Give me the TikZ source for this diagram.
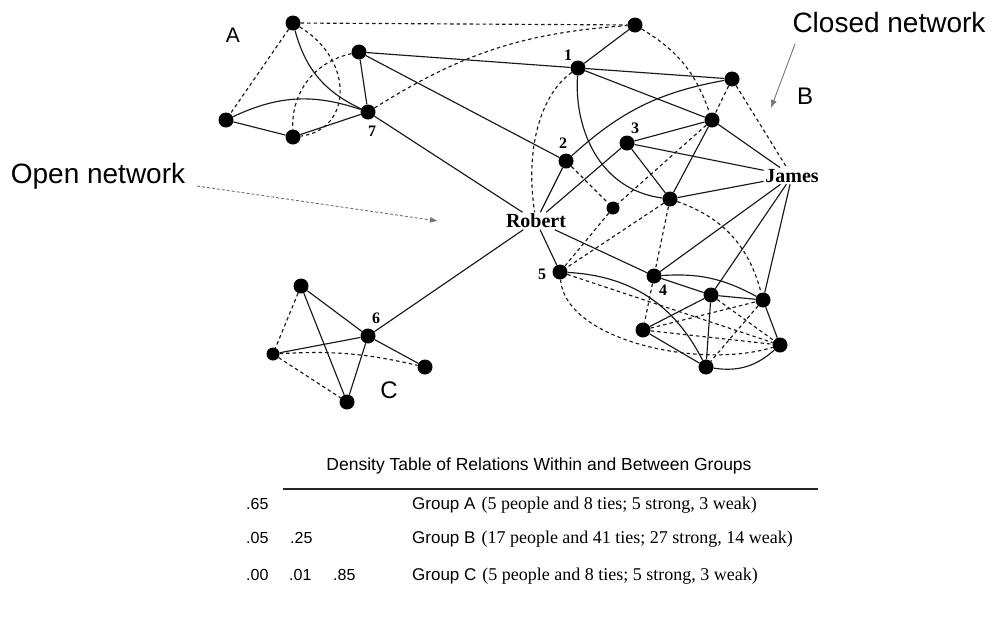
\documentclass[tikz,border=0pt]{standalone}
\usepackage{fontspec}
\setmainfont{Liberation Serif}
\setsansfont{Liberation Sans}
\usetikzlibrary{arrows.meta,backgrounds}
\begin{document}
\begin{tikzpicture}[x=1pt,y=-1pt,
  person/.style={circle,fill=black,inner sep=0pt,minimum size=15pt},
  smallperson/.style={person,minimum size=13pt},
  strong/.style={draw=black!90,line width=1.15pt},
  weak/.style={draw=black!90,line width=1.15pt,dash pattern=on 3.5pt off 3pt},
  pname/.style={font=\fontsize{20}{22}\selectfont\bfseries,inner sep=1.5pt},
  idx/.style={font=\fontsize{16}{18}\selectfont\bfseries,inner sep=0pt},
  grp/.style={font=\sffamily\fontsize{24}{26}\selectfont,inner sep=0pt},
  callout/.style={font=\sffamily\fontsize{28}{30}\selectfont,inner sep=0pt},
  pointer/.style={draw=black!55,line width=0.9pt,-{Latex[length=8pt,width=6pt]}},
  num/.style={font=\sffamily\fontsize{16}{18}\selectfont,anchor=base west,inner sep=0pt},
  row/.style={anchor=base west,inner sep=0pt},
]
\useasboundingbox (0,0) rectangle (990,630);

% ---------- people ----------
% group A
\node[person] (a1) at (293,23) {};
\node[person] (a2) at (359,52) {};
\node[person] (a7) at (368,112) {};
\node[person] (a3) at (226,120) {};
\node[person] (a4) at (293,137) {};
% group B
\node[person] (p)  at (635,25) {};
\node[person] (b1) at (578,68) {};
\node[person] (t)  at (732,79) {};
\node[person] (x)  at (712,120) {};
\node[person] (b3) at (627,143) {};
\node[person] (b2) at (566,161) {};
\node[smallperson] (nb) at (613,208) {};
\node[person] (na) at (670,199) {};
\node[person] (b5) at (560,272) {};
\node[person] (b4) at (654,276) {};
\node[person] (nc) at (711,295) {};
\node[person] (nd) at (763,300) {};
\node[person] (ne) at (643,330) {};
\node[person] (nf) at (780,345) {};
\node[person] (ng) at (706,367) {};
% group C
\node[person] (c1) at (301,286) {};
\node[person] (c6) at (368,336) {};
\node[smallperson] (c2) at (273,354) {};
\node[person] (c3) at (425,367) {};
\node[person] (c4) at (347,402) {};
% the two named people
\node[pname] (robert) at (536,221) {Robert};
\node[pname] (james)  at (792,176) {James};

% ---------- ties ----------
\begin{scope}[on background layer]
% within group A
\draw[weak]   (a1) -- (a3);
\draw[strong] (a1) to[bend right=25] (a7);
\draw[weak]   (a1) .. controls (355,60) and (352,130) .. (a4);
\draw[strong] (a2) -- (a7);
\draw[weak]   (a2) to[bend right=40] (a4);
\draw[strong] (a3) to[bend left=22] (a7);
\draw[strong] (a3) -- (a4);
\draw[strong] (a4) -- (a7);
% leaving group A
\draw[weak]   (a1) -- (p);
\draw[weak]   (a7) to[bend left=14] (p);
\draw[strong] (a2) -- (b1);
\draw[strong] (a2) -- (b2);
\draw[strong] (a7) -- (robert);
% group B, upper part
\draw[strong] (p) -- (b1);
\draw[weak]   (p) to[bend left=20] (x);
\draw[strong] (b1) -- (t);
\draw[strong] (b1) -- (x);
\draw[strong] (b1) .. controls (574,130) and (600,190) .. (na);
\draw[weak]   (b1) .. controls (540,95) and (525,150) .. (robert);
\draw[weak]   (t) -- (x);
\draw[weak]   (t) -- (james);
\draw[strong] (t) to[bend right=16] (b2);
\draw[strong] (x) -- (b3);
\draw[strong] (x) -- (james);
\draw[strong] (x) -- (na);
\draw[weak]   (x) -- (nb);
\draw[strong] (b3) -- (james);
\draw[strong] (b3) -- (na);
\draw[strong] (b3) -- (robert);
\draw[weak]   (b2) -- (nb);
\draw[strong] (b2) -- (robert);
\draw[strong] (na) -- (james);
\draw[weak]   (na) -- (b5);
\draw[weak]   (nb) -- (b5);
\draw[weak]   (na) -- (b4);
\draw[weak]   (na) to[bend left=28] (nd);
% group B, lower part
\draw[strong] (robert) -- (b5);
\draw[strong] (robert) -- (b4);
\draw[strong] (b4) -- (nc);
\draw[strong] (b4) to[bend left=16] (nd);
\draw[weak]   (b4) -- (ne);
\draw[strong] (james) -- (b4);
\draw[strong] (james) -- (nc);
\draw[strong] (james) -- (nd);
\draw[strong] (nc) -- (nd);
\draw[strong] (nc) -- (ng);
\draw[strong] (nc) -- (ne);
\draw[weak]   (nc) -- (nf);
\draw[weak]   (ne) -- (nd);
\draw[weak]   (ne) -- (nf);
\draw[strong] (ne) -- (ng);
\draw[strong] (nd) -- (nf);
\draw[weak]   (nd) -- (ng);
\draw[strong] (ng) to[bend right=25] (nf);
\draw[strong] (b5) to[bend left=30] (ng);
\draw[weak]   (b5) -- (nf);
\draw[weak]   (b5) .. controls (565,340) and (700,370) .. (nf);
% group C
\draw[weak]   (c1) -- (c2);
\draw[strong] (c1) -- (c6);
\draw[strong] (c1) -- (c4);
\draw[strong] (c2) -- (c6);
\draw[weak]   (c2) to[bend left=8] (c3);
\draw[weak]   (c2) -- (c4);
\draw[strong] (c6) -- (c3);
\draw[strong] (c6) -- (c4);
\draw[strong] (c6) -- (robert);
\end{scope}

% ---------- numbers beside people ----------
\node[idx] (l1) at (568,55) {1};
\node[idx] (l2) at (563,143) {2};
\node[idx] (l3) at (635,128) {3};
\node[idx] (l4) at (663,290) {4};
\node[idx] (l5) at (542,274) {5};
\node[idx] (l6) at (376,318) {6};
\node[idx] (l7) at (372,131) {7};

% ---------- group letters and callouts ----------
\node[grp,font=\sffamily\fontsize{21}{24}\selectfont] (ga) at (233,35) {A};
\node[grp] (gb) at (805,96) {B};
\node[grp] (gc) at (389,390) {C};
\node[callout] (closed) at (889,22) {Closed network};
\node[callout] (open) at (98,176) {Open network};
\coordinate (closedtail) at (795,44);
\coordinate (closedhead) at (771,108);
\draw[pointer] (closedtail) -- (closedhead);
\coordinate (opentail) at (197,186);
\coordinate (openhead) at (438,221);
\draw[pointer,densely dashed] (opentail) -- (openhead);

% ---------- density table ----------
\node[font=\sffamily\fontsize{17.5}{20}\selectfont,inner sep=0pt] (title) at (539,466)
  {Density Table of Relations Within and Between Groups};
\coordinate (ruleL) at (283,489);
\coordinate (ruleR) at (818,489);
\draw[line width=1.4pt,black!85] (ruleL) -- (ruleR);
\node[num] (d11) at (246,509) {.65};
\node[num] (d21) at (246,543) {.05};
\node[num] (d22) at (290,543) {.25};
\node[num] (d31) at (246,580) {.00};
\node[num] (d32) at (289,580) {.01};
\node[num] (d33) at (333,580) {.85};
\node[row] (ra) at (412,509) {{\sffamily\fontsize{17}{20}\selectfont Group A}\hspace{6pt}{\fontsize{18}{20}\selectfont (5 people and 8 ties; 5 strong, 3 weak)}};
\node[row] (rb) at (412,543) {{\sffamily\fontsize{17}{20}\selectfont Group B}\hspace{6pt}{\fontsize{18}{20}\selectfont (17 people and 41 ties; 27 strong, 14 weak)}};
\node[row] (rc) at (412,580) {{\sffamily\fontsize{17}{20}\selectfont Group C}\hspace{6pt}{\fontsize{18}{20}\selectfont (5 people and 8 ties; 5 strong, 3 weak)}};
\end{tikzpicture}
\end{document}
